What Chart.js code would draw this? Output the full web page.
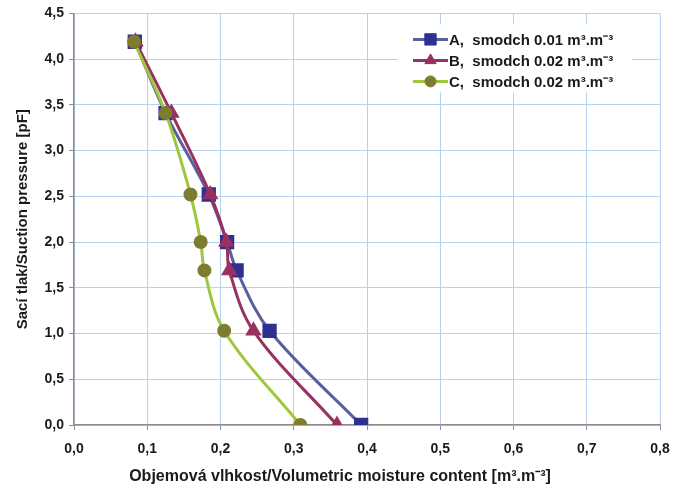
<!DOCTYPE html>
<html>
<head>
<meta charset="utf-8">
<script src="https://cdn.jsdelivr.net/npm/chart.js@4"></script>
<style>
    html, body { margin: 0; padding: 0; background: #fff; }
    #wrap { width: 688px; height: 488px; }
</style>
</head>
<body>
<div id="wrap"><canvas id="retentionChart" width="688" height="488"></canvas></div>
<script>
// sací tlak (pF) pro jednotlivé body měření
const pfLevels = [4.19, 3.41, 2.52, 2.0, 1.69, 1.03, 0.0];

// objemová vlhkost pro jednotlivé varianty
const thetaA = [0.083, 0.125, 0.184, 0.209, 0.222, 0.267, 0.392];
const thetaB = [0.084, 0.133, 0.186, 0.208, 0.212, 0.245, 0.359];
const thetaC = [0.082, 0.125, 0.159, 0.173, 0.178, 0.205, 0.309];

const seriesLabels = [
    'A,  smodch 0.01 m³.m⁻³',
    'B,  smodch 0.02 m³.m⁻³',
    'C,  smodch 0.02 m³.m⁻³'
];

const xTicks = [0, 0.1, 0.2, 0.3, 0.4, 0.5, 0.6, 0.7, 0.8];
const yTicks = [0, 0.5, 1, 1.5, 2, 2.5, 3, 3.5, 4, 4.5];

const xTitle = 'Objemová vlhkost/Volumetric moisture content [m³.m⁻³]';
const yTitle = 'Sací tlak/Suction pressure [pF]';

const FONT = '"Liberation Sans", Arial, sans-serif';

function toPoints(xs) {
    return xs.map((x, i) => ({ x: x, y: pfLevels[i] }));
}

// legenda uvnitř grafu na bílém podkladu + popis osy x vystředěný na celé plátno
const innerLegend = {
    id: 'innerLegend',
    afterDraw(chart) {
        const ctx = chart.ctx;
        const area = chart.chartArea;
        const boxW = 234, boxH = 68;
        const left = area.right - 28 - boxW;
        const top = area.top + 11;

        ctx.save();
        ctx.fillStyle = '#ffffff';
        ctx.fillRect(left, top, boxW, boxH);

        chart.data.datasets.forEach((ds, i) => {
            const y = top + 15 + i * 21;
            const x0 = left + 15;
            const x1 = x0 + 35;

            ctx.strokeStyle = ds.borderColor;
            ctx.lineWidth = 3;
            ctx.beginPath();
            ctx.moveTo(x0, y);
            ctx.lineTo(x1, y);
            ctx.stroke();

            ctx.fillStyle = ds.pointBackgroundColor;
            ctx.strokeStyle = ds.pointBorderColor;
            ctx.lineWidth = 1;
            Chart.helpers.drawPoint(ctx, {
                pointStyle: ds.pointStyle,
                radius: ds.pointRadius,
                rotation: 0,
                borderWidth: 1
            }, (x0 + x1) / 2, y);

            ctx.fillStyle = '#1a1a1a';
            ctx.font = 'bold 15px ' + FONT;
            ctx.textBaseline = 'middle';
            ctx.textAlign = 'left';
            ctx.fillText(ds.label, x1 + 1, y + 1);
        });

        ctx.fillStyle = '#1a1a1a';
        ctx.font = 'bold 16px ' + FONT;
        ctx.textAlign = 'center';
        ctx.textBaseline = 'middle';
        ctx.fillText(xTitle, chart.width / 2 - 4, chart.height - 11);
        ctx.restore();
    }
};

const fmt = v => Number(v).toFixed(1).replace('.', ',');

new Chart(document.getElementById('retentionChart').getContext('2d'), {
    type: 'scatter',
    data: {
        datasets: [
            {
                label: seriesLabels[0],
                data: toPoints(thetaA),
                showLine: true,
                tension: 0.35,
                borderColor: '#5c5f9e',
                borderWidth: 3,
                pointStyle: 'rect',
                pointRadius: 8,
                pointBackgroundColor: '#2e3192',
                pointBorderColor: '#2e3192',
                order: 3
            },
            {
                label: seriesLabels[1],
                data: toPoints(thetaB),
                showLine: true,
                tension: 0.35,
                borderColor: '#993060',
                borderWidth: 3,
                pointStyle: 'triangle',
                pointRadius: 6.5,
                pointBackgroundColor: '#993060',
                pointBorderColor: '#993060',
                order: 2
            },
            {
                label: seriesLabels[2],
                data: toPoints(thetaC),
                showLine: true,
                tension: 0.35,
                borderColor: '#9dc83c',
                borderWidth: 3,
                pointStyle: 'circle',
                pointRadius: 5.5,
                pointBackgroundColor: '#7e7c2f',
                pointBorderColor: '#7e7c2f',
                order: 1
            }
        ]
    },
    options: {
        responsive: false,
        animation: false,
        layout: { padding: { top: 13, right: 28, left: 0, bottom: 0 } },
        plugins: {
            legend: { display: false },
            tooltip: { enabled: false }
        },
        scales: {
            x: {
                type: 'linear',
                min: 0,
                max: 0.8,
                afterBuildTicks: axis => { axis.ticks = xTicks.map(v => ({ value: v })); },
                afterFit: axis => { axis.height = 63; },
                ticks: {
                    callback: fmt,
                    color: '#1a1a1a',
                    font: { family: FONT, size: 14, weight: 'bold' },
                    padding: 11
                },
                grid: { color: '#b6d2ee', lineWidth: 1, tickLength: 5, tickColor: '#8c8c8c' },
                border: { color: '#8c8c8c', width: 1.5 },
                title: { display: false }
            },
            y: {
                type: 'linear',
                min: 0,
                max: 4.5,
                afterBuildTicks: axis => { axis.ticks = yTicks.map(v => ({ value: v })); },
                afterFit: axis => { axis.width = 74; },
                ticks: {
                    callback: fmt,
                    color: '#1a1a1a',
                    font: { family: FONT, size: 14, weight: 'bold' },
                    padding: 5
                },
                grid: { color: '#b6d2ee', lineWidth: 1, tickLength: 5, tickColor: '#8c8c8c' },
                border: { color: '#8c8c8c', width: 1.5 },
                title: {
                    display: true,
                    text: yTitle,
                    color: '#1a1a1a',
                    font: { family: FONT, size: 15, weight: 'bold' },
                    padding: { top: 14, bottom: 4 }
                }
            }
        }
    },
    plugins: [innerLegend]
});
</script>
</body>
</html>
